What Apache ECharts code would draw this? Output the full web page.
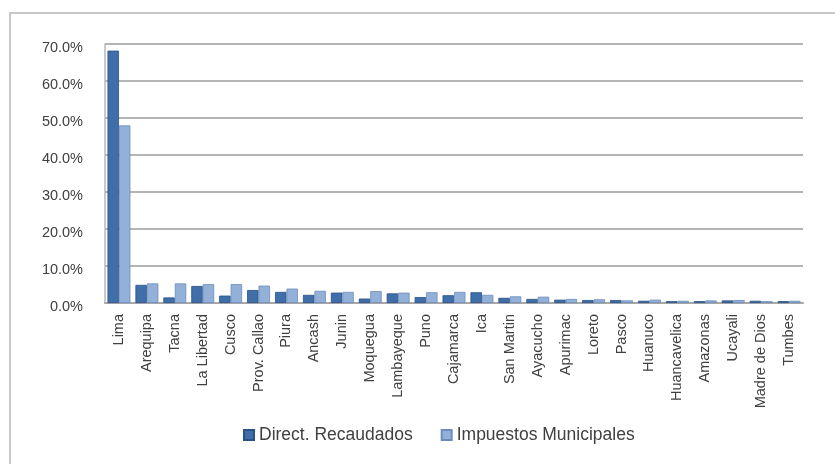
<!DOCTYPE html>
<html><head><meta charset="utf-8">
<script src="https://cdn.jsdelivr.net/npm/echarts@6/dist/echarts.min.js"></script>
<style>html,body{margin:0;padding:0;background:#fff}#c{width:835px;height:464px}
#frame{position:absolute;left:9px;top:12px;width:840px;height:470px;border:2px solid #c8c8c8;box-sizing:border-box;pointer-events:none}</style>
</head><body><div id="c"></div><div id="frame"></div>
<script>
const categories = ["Lima","Arequipa","Tacna","La Libertad","Cusco","Prov. Callao","Piura","Ancash","Junin","Moquegua","Lambayeque","Puno","Cajamarca","Ica","San Martin","Ayacucho","Apurimac","Loreto","Pasco","Huanuco","Huancavelica","Amazonas","Ucayali","Madre de Dios","Tumbes"];
const directRecaudados = [68.2,4.9,1.5,4.6,2.0,3.5,3.0,2.2,2.8,1.2,2.6,1.6,2.1,2.9,1.4,1.1,0.9,0.8,0.8,0.6,0.5,0.5,0.7,0.6,0.5];
const impuestosMunicipales = [48.0,5.3,5.3,5.1,5.1,4.7,3.9,3.3,3.0,3.2,2.8,2.9,3.0,2.2,1.8,1.7,1.1,1.0,0.7,0.9,0.6,0.7,0.8,0.5,0.6];
const seriesNames = ["Direct. Recaudados","Impuestos Municipales"];

const chart = echarts.init(document.getElementById('c'));
const font = '"Liberation Sans", Arial, sans-serif';
chart.setOption({
  animation:false,
  textStyle:{fontFamily:font},
  grid:{left:105,right:32,top:44,bottom:161},
  legend:{bottom:15,left:238,itemWidth:10,itemHeight:10,itemGap:28,icon:'rect',
    textStyle:{fontSize:17.5,color:'#404040',fontFamily:font},data:seriesNames},
  xAxis:{type:'category',data:categories,
    axisLine:{lineStyle:{color:'#a8a8a8',width:2}},axisTick:{show:false},
    axisLabel:{rotate:90,interval:0,fontSize:14.5,color:'#404040',margin:11}},
  yAxis:{type:'value',min:0,max:70,interval:10,
    axisLine:{show:true,lineStyle:{color:'#b8b8b8',width:1.5}},
    axisTick:{show:false},
    splitLine:{lineStyle:{color:'#b4b4b4',width:2}},
    axisLabel:{formatter:v=>'{a|'+v.toFixed(1)+'%}',margin:22,
      rich:{a:{fontSize:14.5,color:'#404040',fontFamily:font,padding:[8,0,0,0]}}}},
  series:[
    {name:seriesNames[0],type:'bar',data:directRecaudados,barGap:'0%',barCategoryGap:'18%',
     itemStyle:{color:'#3f6ea9',borderColor:'#2a5285',borderWidth:0.8}},
    {name:seriesNames[1],type:'bar',data:impuestosMunicipales,
     itemStyle:{color:'#93b0d8',borderColor:'#6c8dbb',borderWidth:0.8}}
  ]
});
</script></body></html>
